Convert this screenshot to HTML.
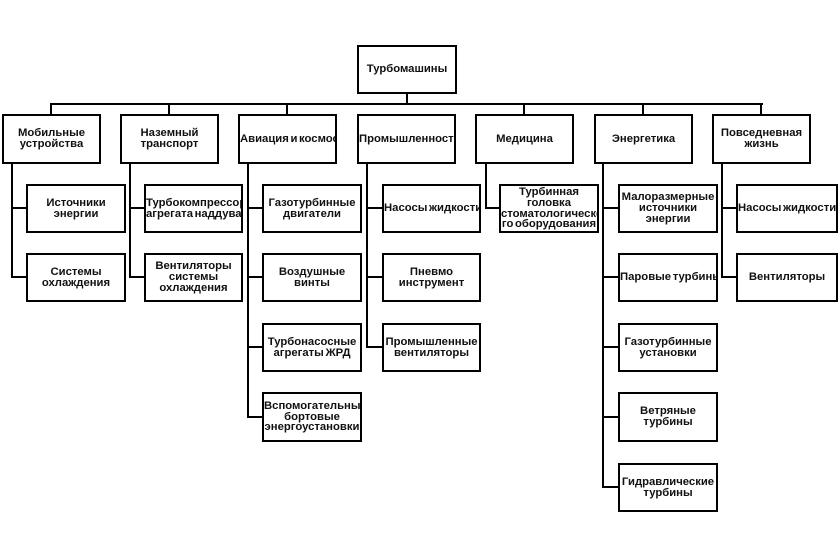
<!DOCTYPE html>
<html><head><meta charset="utf-8">
<style>
html,body{margin:0;padding:0;background:#fff;}
body{width:840px;height:556px;position:relative;overflow:hidden;font-family:"Liberation Sans","DejaVu Sans",sans-serif;}
.b{position:absolute;box-sizing:border-box;border:2px solid #000;background:#fff;display:flex;align-items:center;overflow:hidden;}
.b>div{width:100%;text-align:center;white-space:nowrap;font-weight:bold;font-size:11.3px;line-height:10.8px;color:#111;letter-spacing:0;word-spacing:-1.5px;}
.h{position:absolute;height:2px;background:#000;}
.v{position:absolute;width:2px;background:#000;}
</style></head><body>

<!-- top connectors -->
<div class="v" style="left:406px;top:92px;height:12px"></div>
<div class="h" style="left:50px;top:103px;width:713px"></div>
<div class="v" style="left:50px;top:103px;height:12px"></div>
<div class="v" style="left:168px;top:103px;height:12px"></div>
<div class="v" style="left:286px;top:103px;height:12px"></div>
<div class="v" style="left:523px;top:103px;height:12px"></div>
<div class="v" style="left:642px;top:103px;height:12px"></div>
<div class="v" style="left:760px;top:103px;height:12px"></div>

<!-- column verticals -->
<div class="v" style="left:11px;top:162px;height:116px"></div>
<div class="v" style="left:129px;top:162px;height:116px"></div>
<div class="v" style="left:247px;top:162px;height:256px"></div>
<div class="v" style="left:366px;top:162px;height:186px"></div>
<div class="v" style="left:485px;top:162px;height:47px"></div>
<div class="v" style="left:602px;top:162px;height:326px"></div>
<div class="v" style="left:721px;top:162px;height:116px"></div>

<!-- branches -->
<div class="h" style="left:11px;top:207px;width:16px"></div>
<div class="h" style="left:11px;top:276px;width:16px"></div>
<div class="h" style="left:129px;top:207px;width:16px"></div>
<div class="h" style="left:129px;top:276px;width:16px"></div>
<div class="h" style="left:247px;top:207px;width:16px"></div>
<div class="h" style="left:247px;top:276px;width:16px"></div>
<div class="h" style="left:247px;top:346px;width:16px"></div>
<div class="h" style="left:247px;top:416px;width:16px"></div>
<div class="h" style="left:366px;top:207px;width:17px"></div>
<div class="h" style="left:366px;top:276px;width:17px"></div>
<div class="h" style="left:366px;top:346px;width:17px"></div>
<div class="h" style="left:485px;top:207px;width:15px"></div>
<div class="h" style="left:602px;top:207px;width:17px"></div>
<div class="h" style="left:602px;top:276px;width:17px"></div>
<div class="h" style="left:602px;top:346px;width:17px"></div>
<div class="h" style="left:602px;top:416px;width:17px"></div>
<div class="h" style="left:602px;top:486px;width:17px"></div>
<div class="h" style="left:721px;top:207px;width:16px"></div>
<div class="h" style="left:721px;top:276px;width:16px"></div>

<!-- root -->
<div class="b" style="left:357px;top:45px;width:100px;height:49px"><div>Турбомашины</div></div>

<!-- level 1 -->
<div class="b" style="left:2px;top:114px;width:99px;height:50px"><div>Мобильные<br>устройства</div></div>
<div class="b" style="left:120px;top:114px;width:99px;height:50px"><div>Наземный<br>транспорт</div></div>
<div class="b" style="left:238px;top:114px;width:99px;height:50px"><div>Авиация и космос</div></div>
<div class="b" style="left:357px;top:114px;width:99px;height:50px"><div>Промышленность</div></div>
<div class="b" style="left:475px;top:114px;width:99px;height:50px"><div>Медицина</div></div>
<div class="b" style="left:594px;top:114px;width:99px;height:50px"><div>Энергетика</div></div>
<div class="b" style="left:712px;top:114px;width:99px;height:50px"><div>Повседневная<br>жизнь</div></div>

<!-- col 1 -->
<div class="b" style="left:26px;top:184px;width:100px;height:49px"><div>Источники<br>энергии</div></div>
<div class="b" style="left:26px;top:253px;width:100px;height:49px"><div>Системы<br>охлаждения</div></div>

<!-- col 2 -->
<div class="b" style="left:144px;top:184px;width:99px;height:49px"><div>Турбокомпрессор<br>агрегата наддува</div></div>
<div class="b" style="left:144px;top:253px;width:99px;height:49px"><div>Вентиляторы<br>системы<br>охлаждения</div></div>

<!-- col 3 -->
<div class="b" style="left:262px;top:184px;width:100px;height:49px"><div>Газотурбинные<br>двигатели</div></div>
<div class="b" style="left:262px;top:253px;width:100px;height:49px"><div>Воздушные<br>винты</div></div>
<div class="b" style="left:262px;top:323px;width:100px;height:49px"><div>Турбонасосные<br>агрегаты ЖРД</div></div>
<div class="b" style="left:262px;top:392px;width:100px;height:50px"><div>Вспомогательные<br>бортовые<br>энергоустановки</div></div>

<!-- col 4 -->
<div class="b" style="left:382px;top:184px;width:99px;height:49px"><div>Насосы жидкости</div></div>
<div class="b" style="left:382px;top:253px;width:99px;height:49px"><div>Пневмо<br>инструмент</div></div>
<div class="b" style="left:382px;top:323px;width:99px;height:49px"><div>Промышленные<br>вентиляторы</div></div>

<!-- col 5 -->
<div class="b" style="left:499px;top:184px;width:100px;height:49px"><div>Турбинная<br>головка<br>стоматологическо<br>го оборудования</div></div>

<!-- col 6 -->
<div class="b" style="left:618px;top:184px;width:100px;height:49px"><div>Малоразмерные<br>источники<br>энергии</div></div>
<div class="b" style="left:618px;top:253px;width:100px;height:49px"><div>Паровые турбины</div></div>
<div class="b" style="left:618px;top:323px;width:100px;height:49px"><div>Газотурбинные<br>установки</div></div>
<div class="b" style="left:618px;top:392px;width:100px;height:50px"><div>Ветряные<br>турбины</div></div>
<div class="b" style="left:618px;top:463px;width:100px;height:49px"><div>Гидравлические<br>турбины</div></div>

<!-- col 7 -->
<div class="b" style="left:736px;top:184px;width:102px;height:49px"><div>Насосы жидкости</div></div>
<div class="b" style="left:736px;top:253px;width:102px;height:49px"><div>Вентиляторы</div></div>

</body></html>
